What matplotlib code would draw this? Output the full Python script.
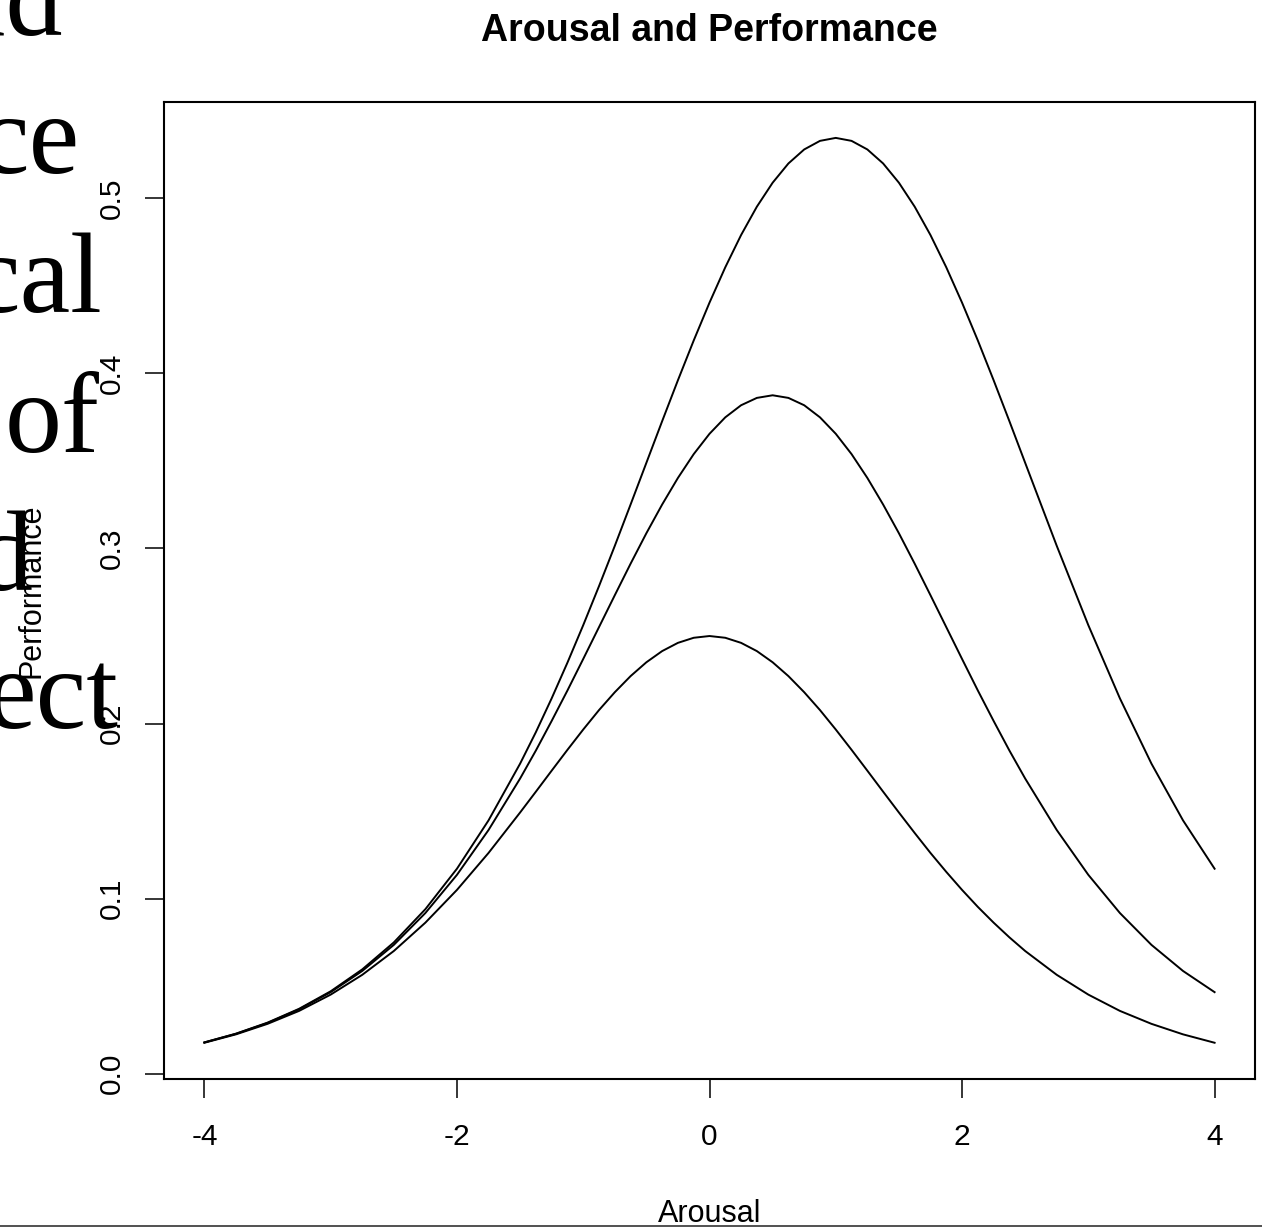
import matplotlib
matplotlib.use('Agg')
import matplotlib.pyplot as plt
from matplotlib.lines import Line2D

# values (denser around the peaks)
arousal = [-4.0, -3.75, -3.5, -3.25, -3.0, -2.75, -2.5, -2.25, -2.0, -1.75, -1.5,
           -1.375, -1.25, -1.125, -1.0, -0.875, -0.75, -0.625, -0.5, -0.375, -0.25,
           -0.125, 0.0, 0.125, 0.25, 0.375, 0.5, 0.625, 0.75, 0.875, 1.0, 1.125, 1.25,
           1.375, 1.5, 1.625, 1.75, 1.875, 2.0, 2.125, 2.25, 2.375, 2.5,
           2.75, 3.0, 3.25, 3.5, 3.75, 4.0]

perf_high = [0.0179, 0.0229, 0.0292, 0.0371, 0.0471, 0.0596, 0.0750, 0.0940, 0.1171, 0.1447, 0.1771,
             0.1951, 0.2144, 0.2348, 0.2562, 0.2785, 0.3015, 0.3251, 0.3489, 0.3727, 0.3961,
             0.4188, 0.4404, 0.4606, 0.4790, 0.4952, 0.5089, 0.5199, 0.5279, 0.5328, 0.5345,
             0.5328, 0.5279, 0.5199, 0.5089, 0.4952, 0.4790, 0.4606, 0.4404, 0.4188, 0.3961,
             0.3727, 0.3489,
             0.3015, 0.2562, 0.2144, 0.1771, 0.1447, 0.1171]

perf_mid = [0.0179, 0.0228, 0.0290, 0.0368, 0.0466, 0.0587, 0.0736, 0.0918, 0.1136, 0.1392, 0.1686,
            0.1846, 0.2015, 0.2189, 0.2369, 0.2551, 0.2733, 0.2913, 0.3087, 0.3251, 0.3403,
            0.3539, 0.3655, 0.3749, 0.3818, 0.3860, 0.3875, 0.3860, 0.3818, 0.3749, 0.3655,
            0.3539, 0.3403, 0.3251, 0.3087, 0.2913, 0.2733, 0.2551, 0.2369, 0.2189, 0.2015,
            0.1846, 0.1686,
            0.1392, 0.1136, 0.0918, 0.0736, 0.0587, 0.0466]

perf_low = [0.0177, 0.0225, 0.0285, 0.0359, 0.0452, 0.0565, 0.0701, 0.0863, 0.1050, 0.1261, 0.1492,
            0.1611, 0.1731, 0.1850, 0.1966, 0.2077, 0.2179, 0.2271, 0.2350, 0.2414, 0.2461,
            0.2490, 0.2500, 0.2490, 0.2461, 0.2414, 0.2350, 0.2271, 0.2179, 0.2077, 0.1966,
            0.1850, 0.1731, 0.1611, 0.1492, 0.1375, 0.1261, 0.1153, 0.1050, 0.0953, 0.0863,
            0.0779, 0.0701,
            0.0565, 0.0452, 0.0359, 0.0285, 0.0225, 0.0177]

xticks = [-4, -2, 0, 2, 4]
yticks = [0.0, 0.1, 0.2, 0.3, 0.4, 0.5]
ytick_labels = ['0.0', '0.1', '0.2', '0.3', '0.4', '0.5']

# slide text fragments cut off at the left edge
slide_words = ['and', 'ce', 'cal', 'of', 'd', 'ect']
slide_right = [63, 80, 102, 100, 33, 118]
slide_base = [35, 173, 312, 452, 590, 728]

W, H = 1262, 1227
plt.rcParams['font.family'] = ['Liberation Sans', 'DejaVu Sans']

fig = plt.figure(figsize=(W / 100, H / 100), dpi=100)
ax = fig.add_axes([164 / W, 1 - 1079 / H, (1255 - 164) / W, (1079 - 102) / H])

for s in (perf_high, perf_mid, perf_low):
    ax.plot(arousal, s, color='black', lw=1.4)

ax.set_xlim(-4.32, 4.32)
ax.set_ylim(-0.003, 0.555)

for sp in ax.spines.values():
    sp.set_linewidth(1.5)

ax.set_xticks(xticks)
ax.set_xticklabels([str(t) for t in xticks])
ax.set_yticks(yticks)
ax.set_yticklabels(ytick_labels, rotation=90, va='center')
ax.tick_params(axis='both', length=13.7, width=1.1, labelsize=21.5)
ax.tick_params(axis='x', pad=18)
ax.tick_params(axis='y', pad=14)

ax.set_title('Arousal and Performance', fontsize=27, fontweight='bold',
             y=(1079 - 41) / (1079 - 102), va='baseline', pad=0)

ax.set_xlabel('Arousal', fontsize=22, va='baseline')
ax.xaxis.set_label_coords(0.5, -(1222 - 1079) / (1079 - 102))
ax.set_ylabel('Performance', fontsize=22, va='center')
ax.yaxis.set_label_coords(-(164 - 32) / (1255 - 164), 0.5)

for w, r, b in zip(slide_words, slide_right, slide_base):
    fig.text(r / W, 1 - b / H, w, ha='right', va='baseline',
             fontsize=82, family='Liberation Serif')

fig.add_artist(Line2D([0, 1], [1 - 1225.5 / H, 1 - 1225.5 / H],
                      transform=fig.transFigure, color='#333333', lw=1.2))

fig.savefig('out.png', dpi=100)
